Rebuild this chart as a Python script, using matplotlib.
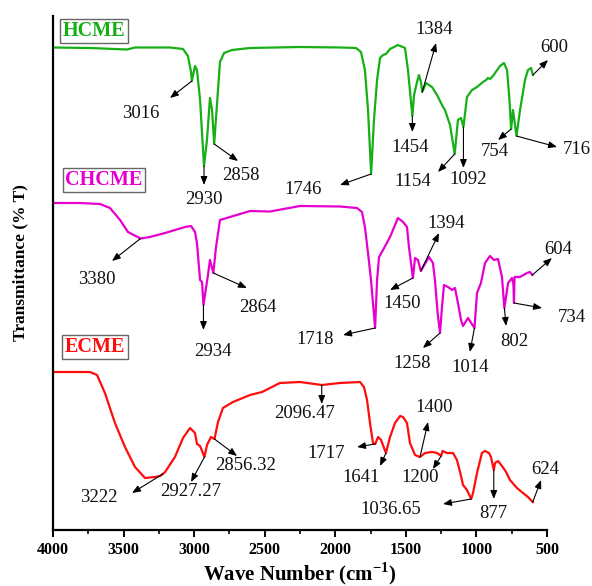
import matplotlib
matplotlib.use("Agg")
import matplotlib.pyplot as plt

plt.rcParams['font.family'] = ['Liberation Serif', 'DejaVu Serif']

# traces (wave number, stacked transmittance in arbitrary units)
hcme_wn = [4000, 3738, 3476, 3419, 3171, 3079, 3044, 3022, 3016, 2994, 2980, 2958, 2937, 2930,
           2909, 2888, 2873, 2858, 2831, 2817, 2788, 2732, 2604, 2250, 1967, 1853, 1818, 1790,
           1768, 1746, 1726, 1704, 1683, 1662, 1641, 1612, 1556, 1506, 1485, 1454, 1442, 1421,
           1407, 1393, 1384, 1357, 1315, 1279, 1244, 1223, 1187, 1154, 1131, 1109, 1092, 1067,
           1031, 996, 953, 932, 918, 904, 883, 833, 805, 783, 766, 754, 741, 716, 691, 656, 635,
           613, 600]
hcme_t = [482.5, 482, 480.5, 482.5, 482.5, 481, 474, 458, 449, 464, 460, 430, 380, 364,
          390, 432, 420, 386, 440, 468, 477, 480, 482, 483, 482.5, 482, 478, 460,
          420, 356, 410, 450, 472, 475, 476, 481, 485, 482, 460, 414, 435, 448,
          455, 448, 438, 447, 443, 435, 425, 420, 405, 376, 410, 412, 403, 433,
          440, 443, 448, 450, 452, 451, 454, 464, 467, 460, 430, 401, 420, 394, 420, 450, 460,
          462, 455]

chcme_wn = [4000, 3809, 3667, 3596, 3525, 3469, 3380, 3313, 3206, 3065, 3022, 2994, 2980, 2958,
            2944, 2934, 2902, 2888, 2864, 2845, 2817, 2746, 2604, 2463, 2250, 1967, 1846, 1811,
            1790, 1768, 1747, 1718, 1704, 1690, 1662, 1612, 1577, 1556, 1520, 1492, 1478, 1450,
            1435, 1414, 1394, 1357, 1336, 1308, 1294, 1275, 1258, 1244, 1230, 1201, 1173, 1152,
            1131, 1109, 1095, 1060, 1014, 996, 968, 939, 904, 876, 847, 819, 802, 776, 748, 738,
            734, 730, 691, 642, 620, 604]
chcme_t = [327, 327, 326, 322, 310, 298, 291.5, 293, 297, 303, 304, 298, 287, 250,
           248, 225, 255, 270, 257, 283, 310, 313, 319, 318.5, 324, 323.5, 322, 318,
           303, 277, 250, 202, 250, 273, 280, 293, 305, 312, 308, 303, 283, 252,
           272, 270, 259, 268, 273, 267, 250, 217, 197, 223, 245, 243, 240, 242,
           227, 210, 204, 212, 202, 237, 247, 267, 274, 270, 271, 253, 222, 247, 252, 246,
           227, 253, 253, 257, 258, 255]

ecme_wn = [4000, 3738, 3688, 3632, 3561, 3490, 3419, 3348, 3277, 3242, 3222, 3206, 3136, 3079,
           3029, 2994, 2980, 2958, 2927, 2909, 2881, 2856, 2831, 2796, 2725, 2604, 2519, 2463,
           2392, 2250, 2096, 1967, 1825, 1797, 1775, 1754, 1733, 1717, 1697, 1676, 1641, 1612,
           1577, 1541, 1520, 1492, 1471, 1435, 1400, 1364, 1315, 1279, 1250, 1240, 1209, 1166,
           1138, 1116, 1095, 1067, 1037, 1024, 996, 961, 939, 911, 897, 877, 868, 847, 819, 790,
           762, 713, 670, 635, 601]
ecme_t = [158, 158, 155, 137, 107, 83, 63, 52, 53, 54, 56, 58, 73, 92,
          102, 97, 86, 84, 73, 85, 93, 91, 108, 122, 128, 135, 138, 142,
          147, 148, 145, 147, 148, 143, 130, 107, 87, 86, 93, 90, 77, 93,
          107, 114, 113, 107, 87, 75, 73, 77, 78, 77, 74, 79, 77, 77,
          70, 58, 45, 40, 31, 37, 57, 77, 79, 77, 73, 60, 67, 69, 64, 58,
          50, 42, 37, 33, 28]

names = ["HCME", "CHCME", "ECME"]
colors = ["#16b016", "#e600cf", "#ff0d0d"]

# peak labels: text, peak point, arrow head, text centre
hcme_notes = [("3016", 3016, 449, 3171, 432, 3377, 417),
              ("2930", 2930, 364, 2930, 345, 2930, 330),
              ("2858", 2858, 386, 2689, 369, 2668, 355),
              ("1746", 1746, 356, 1967, 345, 2227, 340),
              ("1454", 1454, 414, 1454, 398, 1471, 383),
              ("1384", 1384, 438, 1286, 487, 1301, 500),
              ("1154", 1154, 376, 1272, 358, 1449, 348),
              ("1092", 1092, 403, 1092, 362, 1060, 351),
              ("754", 754, 401, 847, 390, 868, 379),
              ("716", 716, 394, 429, 383, 287, 381),
              ("600", 600, 455, 493, 470, 450, 482)]
chcme_notes = [("3380", 3380, 291.5, 3582, 269, 3688, 251),
               ("2934", 2934, 225, 2934, 200, 2866, 178),
               ("2864", 2864, 257, 2626, 242, 2548, 223),
               ("1718", 1718, 202, 1945, 195, 2144, 191),
               ("1450", 1450, 252, 1612, 240, 1527, 227),
               ("1394", 1394, 259, 1265, 297, 1216, 306),
               ("1258", 1258, 197, 1379, 182, 1456, 166),
               ("1014", 1014, 202, 1046, 178, 1046, 163),
               ("802", 802, 222, 790, 204, 734, 189),
               ("734", 734, 227, 535, 222, 323, 213),
               ("604", 604, 255, 465, 272, 422, 281)]
ecme_notes = [("3222", 3222, 56, 3440, 37, 3674, 33),
              ("2927.27", 2927, 73, 3022, 48, 3022, 38),
              ("2856.32", 2856, 91, 2696, 74, 2633, 65),
              ("2096.47", 2096, 145, 2096, 126, 2215, 117),
              ("1717", 1717, 86, 1846, 83, 2066, 77),
              ("1641", 1641, 77, 1683, 64, 1818, 53),
              ("1400", 1400, 73, 1343, 108, 1301, 123),
              ("1200", 1250, 74, 1308, 61, 1400, 52),
              ("1036.65", 1037, 31, 1237, 26, 1605, 21),
              ("877", 877, 60, 877, 31, 877, 16),
              ("624", 601, 28, 542, 50, 514, 60)]

box_pos = [(3710, 499), (3639, 350), (3702, 183)]

fig = plt.figure(figsize=(5.92, 5.86), dpi=100)
ax = fig.add_axes([53 / 592, 56 / 586, 494 / 592, 514 / 586])

series = [(hcme_wn, hcme_t, hcme_notes), (chcme_wn, chcme_t, chcme_notes), (ecme_wn, ecme_t, ecme_notes)]
for (wn, t, notes), name, col, (bx, by) in zip(series, names, colors, box_pos):
    ax.plot(wn, t, color=col, lw=1.6, solid_joinstyle='round')
    for lab, px, py, hx, hy, tx, ty in notes:
        ax.annotate("", xy=(hx, hy), xytext=(px, py), annotation_clip=False,
                    arrowprops=dict(arrowstyle="-|>,head_length=0.5,head_width=0.2",
                                    color="black", lw=0.8, shrinkA=0, shrinkB=0))
        ax.text(tx, ty, lab, ha="center", va="center", fontsize=13.5, color="#111111")
    ax.text(bx, by, name, ha="center", va="center", fontsize=14.5, fontweight="bold", color=col,
            bbox=dict(boxstyle="square,pad=0.12", fc="white", ec="#666666", lw=1.0))

ax.set_xlim(4000, 500)
ax.set_ylim(0, 514)
ax.set_xticks([4000, 3500, 3000, 2500, 2000, 1500, 1000, 500])
ax.set_xticks([3750, 3250, 2750, 2250, 1750, 1250, 750], minor=True)
ax.set_yticks([])
ax.spines["top"].set_visible(False)
ax.spines["right"].set_visible(False)
ax.spines["left"].set_linewidth(1.6)
ax.spines["bottom"].set_linewidth(1.6)
ax.tick_params(axis="x", which="major", direction="out", length=5, width=1.4, labelsize=11.5, pad=4)
ax.tick_params(axis="x", which="minor", direction="out", length=3, width=1.2)
for lbl in ax.get_xticklabels():
    lbl.set_fontweight("bold")

ax.set_xlabel("Wave Number (cm$^{\\mathregular{-1}}$)", fontsize=15, fontweight="bold", labelpad=1)
ax.set_ylabel("Transmittance (% T)", fontsize=12.5, fontweight="bold")
ax.yaxis.set_label_coords(-0.05, 0.52)

fig.savefig("out.png", dpi=100)
